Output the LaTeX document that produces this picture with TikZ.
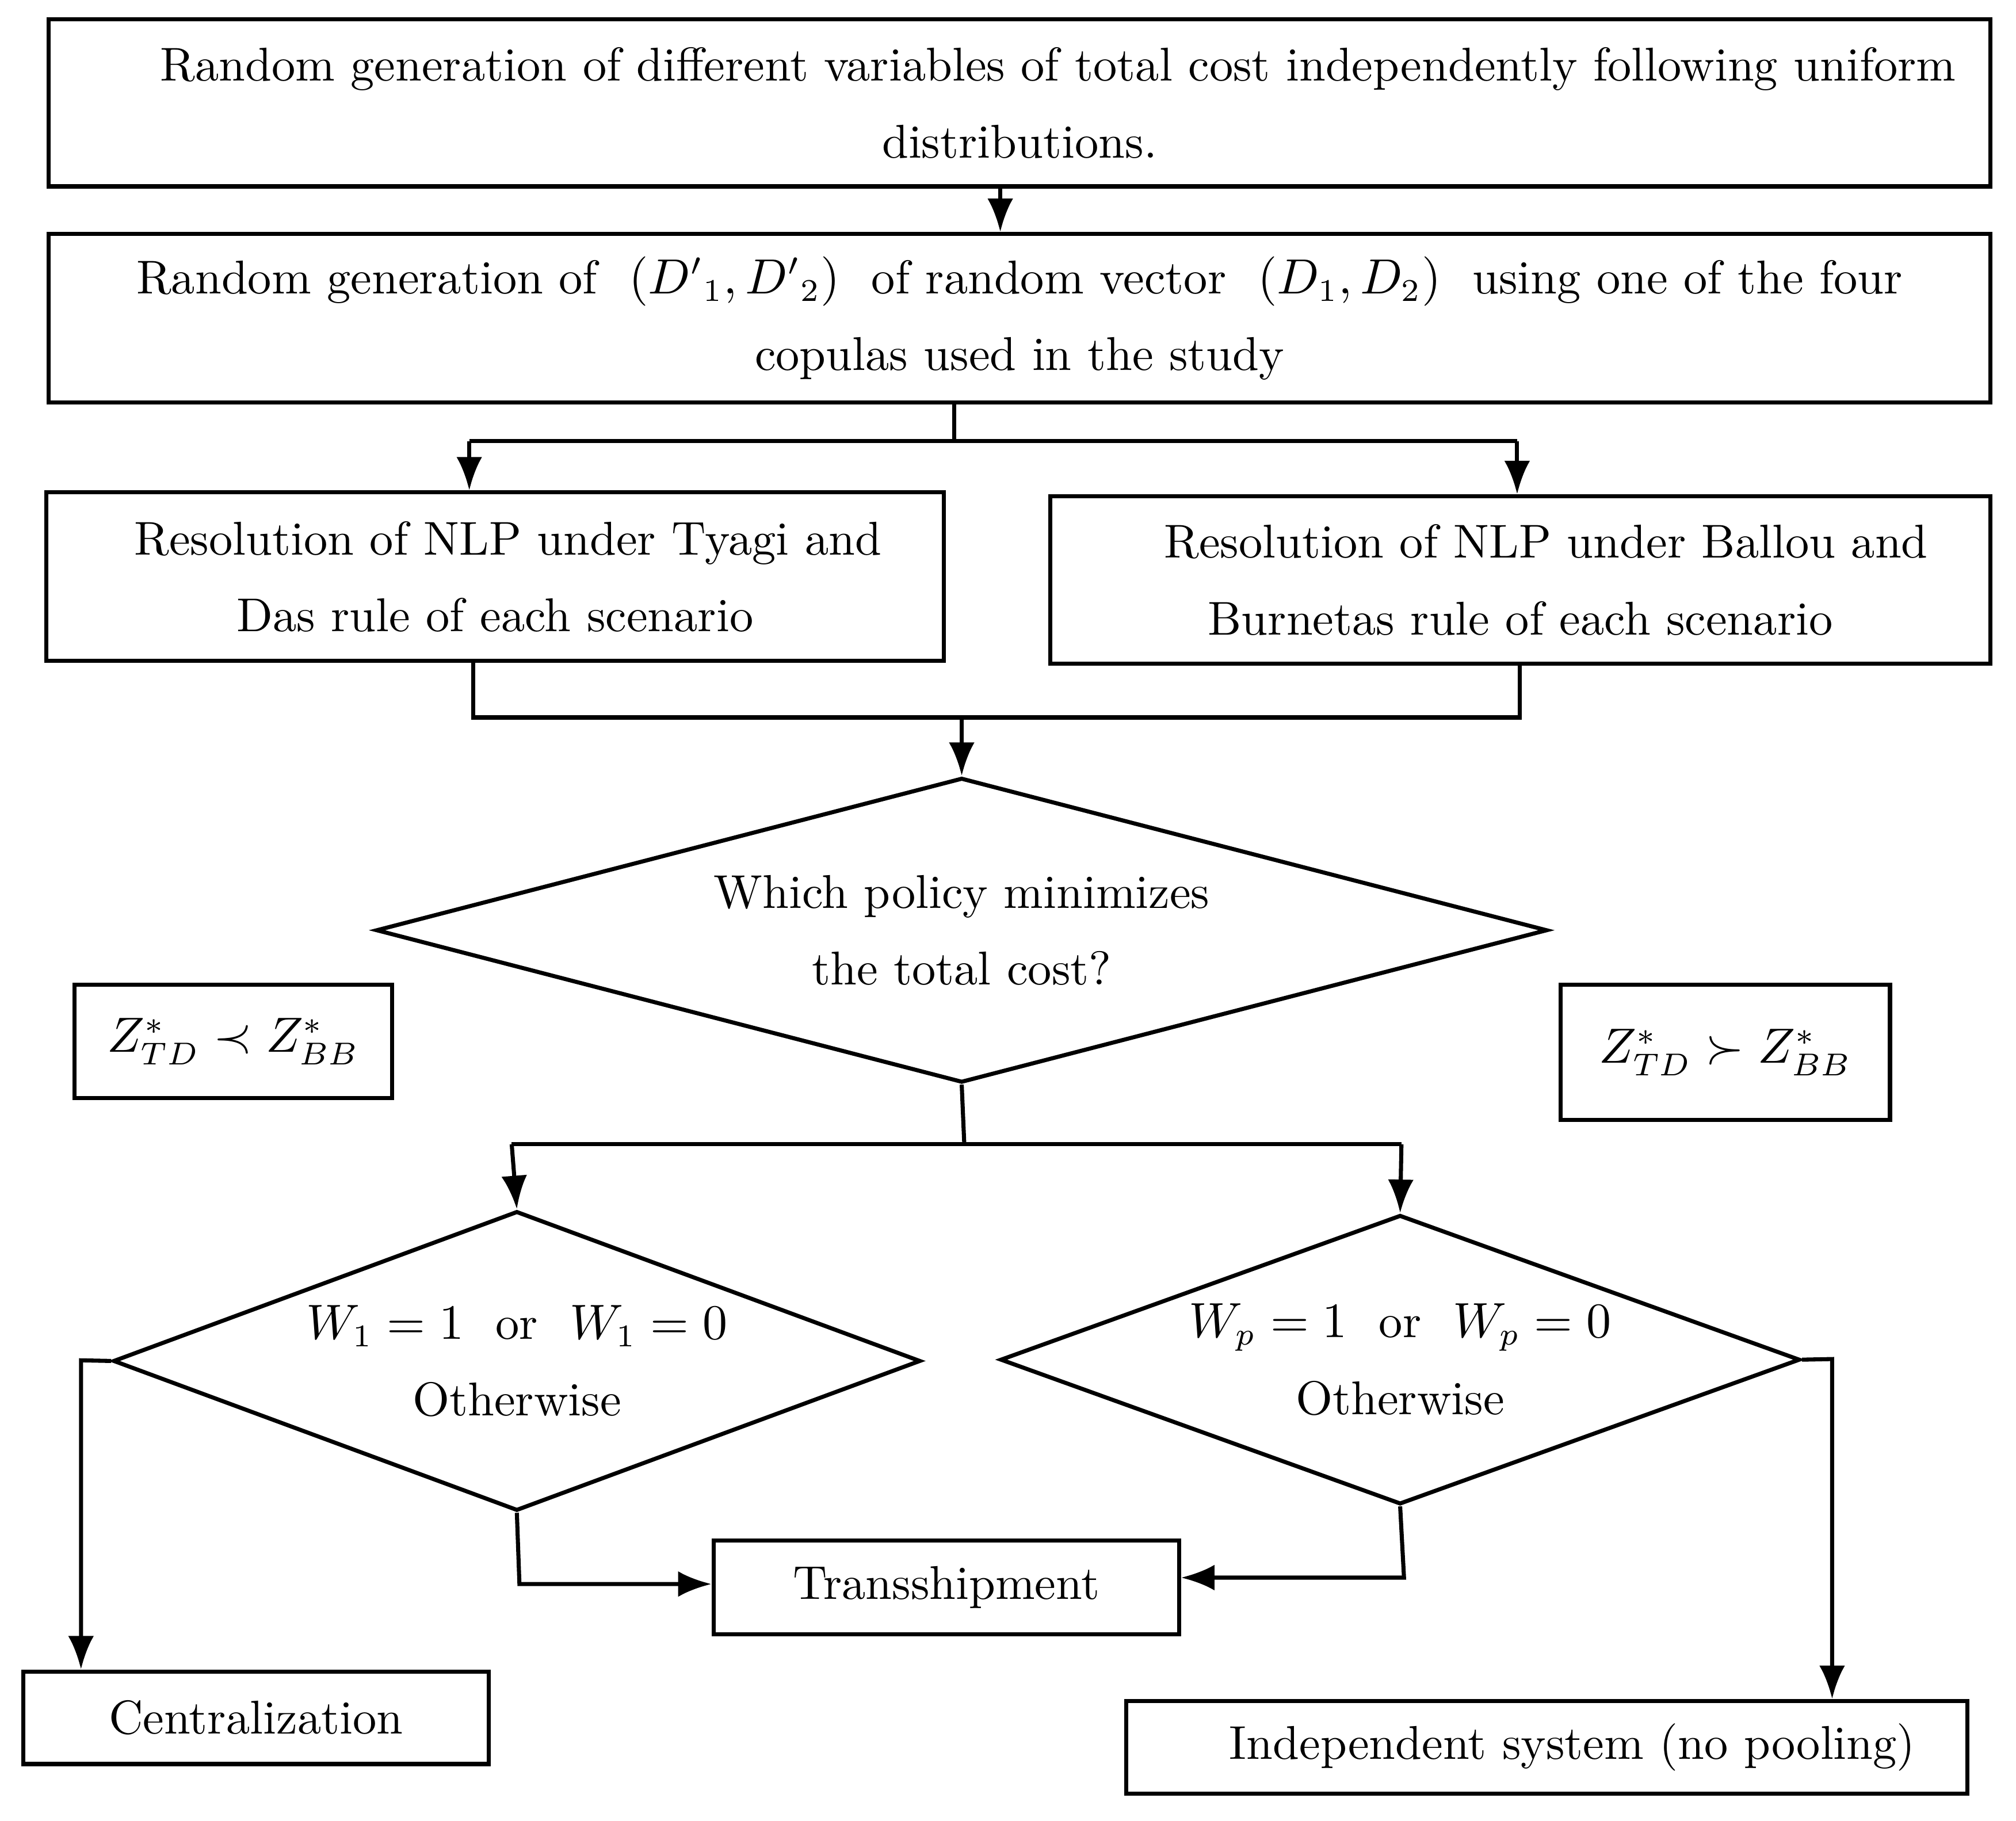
\documentclass[tikz,border=0pt]{standalone}
\usepackage{amsmath,amssymb}
\usetikzlibrary{shapes.geometric,arrows.meta}
\begin{document}
\begin{tikzpicture}[x=0.1mm,y=-0.1mm,line width=0.9pt,
    font=\fontsize{10.5}{17}\selectfont,
    >={Latex[length=2.6mm,width=2mm]}]
    \tikzset{box/.style={draw,rectangle,inner sep=0pt,align=center},
             dia/.style={draw,diamond,inner sep=0pt,align=center}}
    \useasboundingbox (0,0) rectangle (1568,1416);

    % boxes
    \node[box,minimum width=151mm,minimum height=13mm] (gen) at (793,80)
        {\hspace*{6mm}Random generation of different variables of total cost independently following uniform\\ distributions.};
    \node[box,minimum width=151mm,minimum height=13.1mm] (cop) at (793,247.5)
        {Random generation of \ $(D'{}_1,D'{}_2)$ \ of random vector \ $(D_1,D_2)$ \ using one of the four\\ copulas used in the study};
    \node[box,minimum width=69.8mm,minimum height=13.1mm] (tyagi) at (385,448.5)
        {\hspace*{2mm}Resolution of NLP under Tyagi and\\ Das rule of each scenario};
    \node[box,minimum width=73.1mm,minimum height=13mm] (ballou) at (1182.5,451)
        {\hspace*{4mm}Resolution of NLP under Ballou and\\ Burnetas rule of each scenario};
    \node[dia,aspect=3.84,minimum width=91.1mm,minimum height=23.7mm] (policy) at (748,723.5)
        {Which policy minimizes\\ the total cost?};
    \node[box,minimum width=24.7mm,minimum height=8.8mm] (less) at (181.5,810)
        {$Z^*_{TD}\prec Z^*_{BB}$};
    \node[box,minimum width=25.6mm,minimum height=10.5mm] (more) at (1342,818.5)
        {$Z^*_{TD}\succ Z^*_{BB}$};
    \node[dia,aspect=2.7,minimum width=62.8mm,minimum height=23.3mm] (wone) at (402,1058.5)
        {$W_1=1$ \ or \ $W_1=0$\\ Otherwise};
    \node[dia,aspect=2.76,minimum width=62.2mm,minimum height=22.5mm] (wp) at (1089,1057.5)
        {$W_p=1$ \ or \ $W_p=0$\\ Otherwise};
    \node[box,minimum width=36.2mm,minimum height=7.3mm] (trans) at (736,1234.5)
        {Transshipment};
    \node[box,minimum width=36.2mm,minimum height=7.2mm] (central) at (199,1336)
        {Centralization};
    \node[box,minimum width=65.4mm,minimum height=7.2mm] (indep) at (1203,1359)
        {\hspace*{4mm}Independent system (no pooling)};

    % helper points
    \coordinate (sL) at (365,343);
    \coordinate (sR) at (1180,343);
    \coordinate (jL) at (368,558);
    \coordinate (jR) at (1182,558);
    \coordinate (pL) at (398,890);
    \coordinate (pR) at (1090,890);
    \coordinate (cL) at (63,1058);
    \coordinate (cR) at (1425,1057);
    \coordinate (tL) at (404,1232);
    \coordinate (tR) at (1092,1227);

    % connectors
    \draw[->] (gen.south -| 778,0) -- (cop.north -| 778,0);
    \draw (cop.south -| 742,0) -- (742,343);
    \draw (sL) -- (sR);
    \draw[->] (sL) -- (tyagi.north -| sL);
    \draw[->] (sR) -- (ballou.north -| sR);
    \draw (tyagi.south -| jL) -- (jL) -- (jR) -- (ballou.south -| jR);
    \draw[->] (748,558) -- (policy.north);
    \draw (policy.south) -- (750,890);
    \draw (pL) -- (pR);
    \draw[->] (pL) -- (wone.north);
    \draw[->] (pR) -- (wp.north);
    \draw[->] (wone.west) -- (cL) -- (central.north -| cL);
    \draw[->] (wp.east) -- (cR) -- (indep.north -| cR);
    \draw[->] (wone.south) -- (tL) -- (trans.west |- tL);
    \draw[->] (wp.south) -- (tR) -- (trans.east |- tR);
\end{tikzpicture}
\end{document}
